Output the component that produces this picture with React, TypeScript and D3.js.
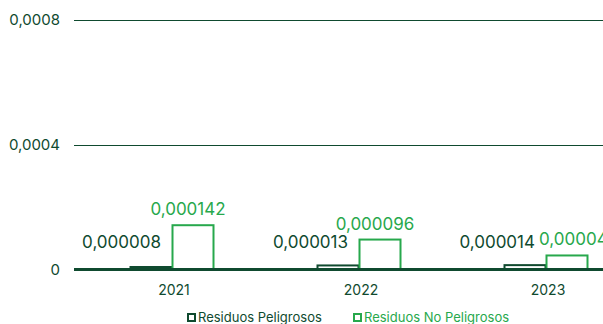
import React, { useEffect, useRef } from "react";
import * as d3 from "d3";

const years = ["2021", "2022", "2023"];
const peligrosos = [0.000008, 0.000013, 0.000014];
const noPeligrosos = [0.000142, 0.000096, 0.000045];
const yTicks = [0, 0.0004, 0.0008];
const seriesNames = ["Residuos Peligrosos", "Residuos No Peligrosos"];

const DARK = "#0f4a2f";
const GREEN = "#27a84c";
const FONT = "Inter, 'Open Sans', sans-serif";

const W = 603;
const H = 324;

const fmt = (v: number, digits: number) =>
  v === 0 ? "0" : v.toFixed(digits).replace(".", ",");

export default function App() {
  const ref = useRef<SVGSVGElement | null>(null);

  useEffect(() => {
    const svg = d3.select(ref.current);
    svg.selectAll("*").remove();

    const y = d3.scaleLinear().domain([0, 0.0008]).range([269.5, 20]);
    const x = d3.scaleBand<string>().domain(years).range([78.5, 639.5]).padding(0);
    const barW = 42;

    // grid lines
    svg
      .append("g")
      .selectAll("line")
      .data(yTicks.filter((t) => t > 0))
      .join("line")
      .attr("x1", 74)
      .attr("x2", W)
      .attr("y1", (d) => Math.round(y(d)) + 0.5)
      .attr("y2", (d) => Math.round(y(d)) + 0.5)
      .attr("stroke", DARK)
      .attr("stroke-width", 1);

    // y tick labels
    svg
      .append("g")
      .selectAll("text")
      .data(yTicks)
      .join("text")
      .attr("x", 60)
      .attr("y", (d) => y(d) + 5)
      .attr("text-anchor", "end")
      .attr("font-family", FONT)
      .attr("font-size", 15)
      .attr("fill", DARK)
      .text((d) => fmt(d, 4));

    const groups = svg
      .append("g")
      .selectAll("g")
      .data(years.map((yr, i) => ({ yr, a: peligrosos[i], b: noPeligrosos[i] })))
      .join("g")
      .attr("transform", (d) => `translate(${(x(d.yr) as number) + x.bandwidth() / 2},0)`);

    // bars
    groups
      .append("rect")
      .attr("x", -barW + 0.5)
      .attr("y", (d) => y(d.a))
      .attr("width", barW - 1)
      .attr("height", (d) => y(0) - y(d.a))
      .attr("fill", "none")
      .attr("stroke", DARK)
      .attr("stroke-width", 2);

    groups
      .append("rect")
      .attr("x", 0.5)
      .attr("y", (d) => y(d.b))
      .attr("width", barW - 1)
      .attr("height", (d) => y(0) - y(d.b))
      .attr("fill", "none")
      .attr("stroke", GREEN)
      .attr("stroke-width", 2);

    // value labels
    const darkLabelY = 248;
    const darkEnd = -barW / 2 + 10;
    groups
      .append("text")
      .attr("x", darkEnd)
      .attr("y", darkLabelY)
      .attr("text-anchor", "end")
      .attr("font-family", FONT)
      .attr("font-size", 17)
      .attr("fill", DARK)
      .text((d) => fmt(d.a, 6));

    groups.each(function (d) {
      const g = d3.select(this);
      const ly = y(d.b) - 10;
      const t = g
        .append("text")
        .attr("y", ly)
        .attr("font-family", FONT)
        .attr("font-size", 17)
        .attr("fill", GREEN)
        .text(fmt(d.b, 6));
      if (darkLabelY - ly < 18) {
        t.attr("x", darkEnd + 4).attr("text-anchor", "start");
      } else {
        t.attr("x", barW / 2 - 5).attr("text-anchor", "middle");
      }
    });

    // baseline
    svg
      .append("line")
      .attr("x1", 74)
      .attr("x2", W)
      .attr("y1", y(0))
      .attr("y2", y(0))
      .attr("stroke", DARK)
      .attr("stroke-width", 3);

    // x labels
    svg
      .append("g")
      .selectAll("text")
      .data(years)
      .join("text")
      .attr("x", (d) => (x(d) as number) + x.bandwidth() / 2 + 2)
      .attr("y", 295)
      .attr("text-anchor", "middle")
      .attr("font-family", FONT)
      .attr("font-size", 14)
      .attr("fill", DARK)
      .text((d) => d);

    // legend
    const legendX = [187, 353];
    const legendColors = [DARK, GREEN];
    const leg = svg
      .append("g")
      .selectAll("g")
      .data(seriesNames)
      .join("g")
      .attr("transform", (_, i) => `translate(${legendX[i]},313)`);
    leg
      .append("rect")
      .attr("x", 1)
      .attr("y", 1)
      .attr("width", 7)
      .attr("height", 7)
      .attr("fill", "none")
      .attr("stroke", (_, i) => legendColors[i])
      .attr("stroke-width", 2);
    leg
      .append("text")
      .attr("x", 11)
      .attr("y", 9)
      .attr("font-family", FONT)
      .attr("font-size", 13)
      .attr("fill", (_, i) => legendColors[i])
      .text((d) => d);
  }, []);

  return (
    <svg
      ref={ref}
      width={W}
      height={H}
      style={{ position: "absolute", left: 0, top: 0, background: "#fff" }}
    />
  );
}
